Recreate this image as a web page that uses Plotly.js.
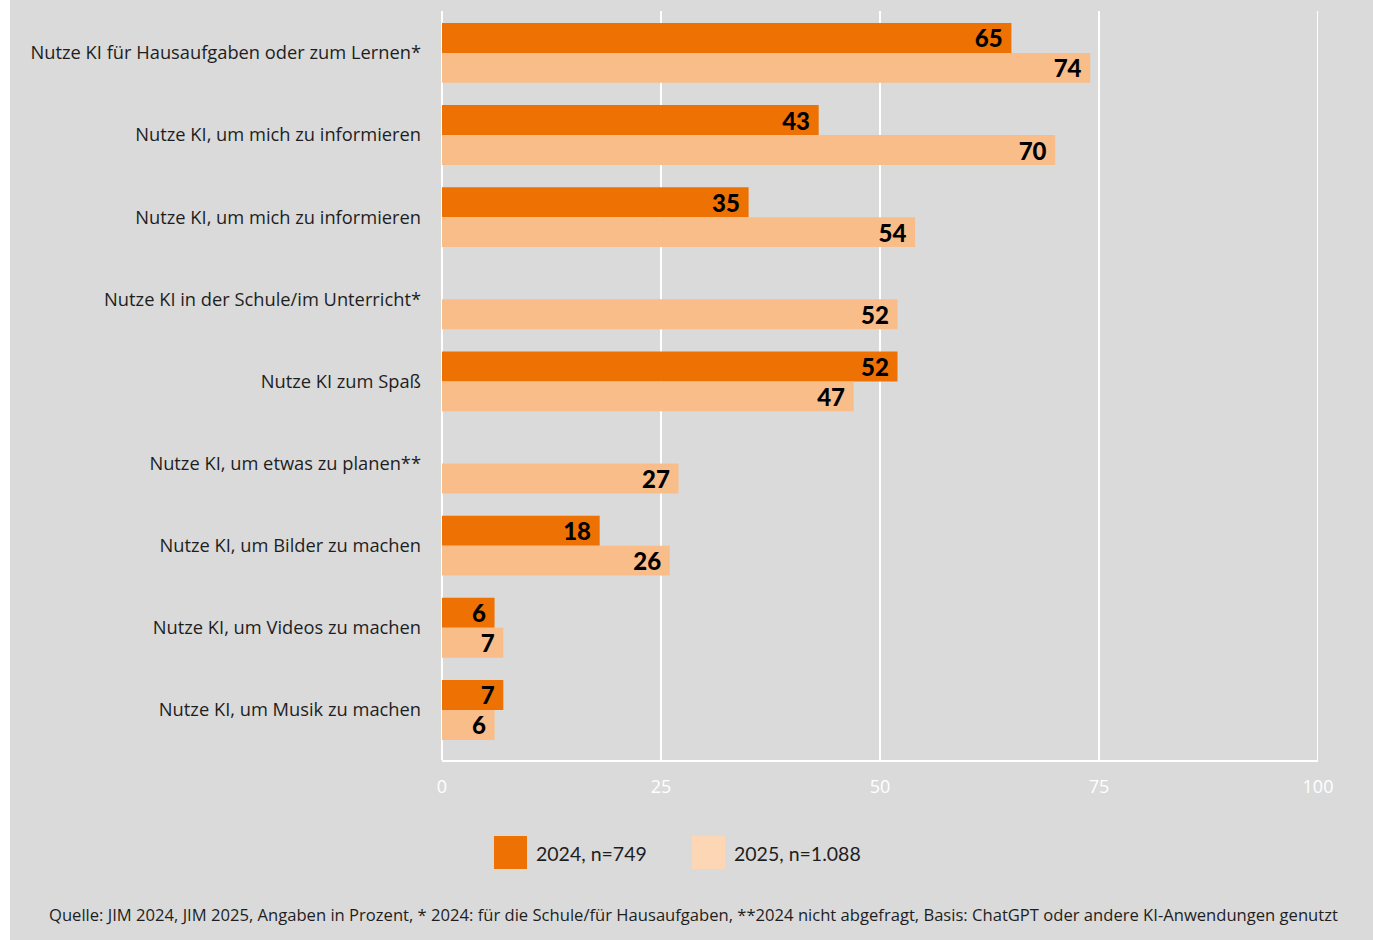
<!DOCTYPE html>
<html>
<head>
<meta charset="utf-8">
<script src="https://cdn.plot.ly/plotly-3.0.1.min.js"></script>
<style>
  html, body { margin: 0; padding: 0; background: #ffffff; width: 1373px; height: 940px; overflow: hidden; }
  #chart { position: absolute; left: 10px; top: 0; width: 1363px; height: 940px; }
</style>
</head>
<body>
<div id="chart"></div>
<script>
const categories = [
  "Nutze KI für Hausaufgaben oder zum Lernen*",
  "Nutze KI, um mich zu informieren",
  "Nutze KI, um mich zu informieren",
  "Nutze KI in der Schule/im Unterricht*",
  "Nutze KI zum Spaß",
  "Nutze KI, um etwas zu planen**",
  "Nutze KI, um Bilder zu machen",
  "Nutze KI, um Videos zu machen",
  "Nutze KI, um Musik zu machen"
];
const values2024 = [65, 43, 35, null, 52, null, 18, 6, 7];
const values2025 = [74, 70, 54, 52, 47, 27, 26, 7, 6];
const seriesNames = ["2024, n=749", "2025, n=1.088"];
const xTicks = [0, 25, 50, 75, 100];
const footnote = "Quelle: JIM 2024, JIM 2025, Angaben in Prozent, * 2024: für die Schule/für Hausaufgaben, **2024 nicht abgefragt, Basis: ChatGPT oder andere KI-Anwendungen genutzt";

const positions = categories.map((_, i) => i);
const FONT = "'Open Sans', Lato, sans-serif";
const colOrange = "#ee7203";
const colLight = "#f9bd8a";
const colLegendLight = "#fdd7b5";

const common = {
  type: "bar",
  orientation: "h",
  y: positions,
  texttemplate: "%{x}\u00a0",
  textposition: "inside",
  insidetextanchor: "end",
  textangle: 0,
  constraintext: "none",
  cliponaxis: false,
  textfont: { family: "Lato, sans-serif", size: 24, color: "#000000", weight: 900 },
  hoverinfo: "skip",
  showlegend: false
};

const traces = [
  Object.assign({}, common, { x: values2024, name: seriesNames[0], marker: { color: colOrange } }),
  Object.assign({}, common, { x: values2025, name: seriesNames[1], marker: { color: colLight } })
];

// plot area in px (div coords): x 432..1308, y 11..760
const plotW = 876, plotH = 749;
const px = (x) => (x - 432) / plotW;
const py = (y) => (760 - y) / plotH;
const xMax = xTicks[xTicks.length - 1];

const layout = {
  width: 1363,
  height: 940,
  margin: { l: 432, r: 55, t: 11, b: 180, pad: 0 },
  paper_bgcolor: "#dadada",
  plot_bgcolor: "#dadada",
  barmode: "group",
  bargap: 0.27,
  bargroupgap: 0,
  font: { family: FONT, color: "#1e1e1e" },
  xaxis: {
    range: [0, 100],
    tickvals: xTicks,
    ticktext: xTicks.map(String),
    showgrid: true,
    gridcolor: "#ffffff",
    gridwidth: 2,
    zeroline: true,
    zerolinecolor: "#ffffff",
    zerolinewidth: 2,
    showline: true,
    linecolor: "#ffffff",
    linewidth: 2,
    ticks: "",
    ticklabelstandoff: 9,
    tickfont: { family: FONT, size: 18, color: "#ffffff" },
    fixedrange: true
  },
  yaxis: {
    type: "linear",
    range: [8.61, -0.51],
    tickvals: positions,
    ticktext: categories,
    showgrid: false,
    zeroline: false,
    showline: false,
    ticks: "",
    ticklabelstandoff: 20,
    tickfont: { family: FONT, size: 18.3, color: "#1e1e1e", weight: 500 },
    fixedrange: true
  },
  shapes: [
    { type: "line", xref: "x", yref: "paper", x0: xMax, x1: xMax, y0: 0, y1: 1, line: { color: "#ffffff", width: 2 }, layer: "below" },
    { type: "rect", xref: "paper", yref: "paper", x0: px(484), x1: px(517), y0: py(869), y1: py(836), fillcolor: colOrange, line: { width: 0 } },
    { type: "rect", xref: "paper", yref: "paper", x0: px(682), x1: px(715), y0: py(869), y1: py(836), fillcolor: colLegendLight, line: { width: 0 } }
  ],
  annotations: [
    { xref: "paper", yref: "paper", x: px(524), y: py(853), xanchor: "left", yanchor: "middle", text: seriesNames[0], showarrow: false, font: { family: "Lato, sans-serif", size: 19.5, color: "#1e1e1e" } },
    { xref: "paper", yref: "paper", x: px(722), y: py(853), xanchor: "left", yanchor: "middle", text: seriesNames[1], showarrow: false, font: { family: "Lato, sans-serif", size: 19.5, color: "#1e1e1e" } },
    { xref: "paper", yref: "paper", x: px(683), y: py(914), xanchor: "center", yanchor: "middle", text: footnote, showarrow: false, font: { family: FONT, size: 16.6, color: "#1e1e1e" } }
  ]
};

Plotly.newPlot("chart", traces, layout, { displayModeBar: false, staticPlot: true });
</script>
</body>
</html>
